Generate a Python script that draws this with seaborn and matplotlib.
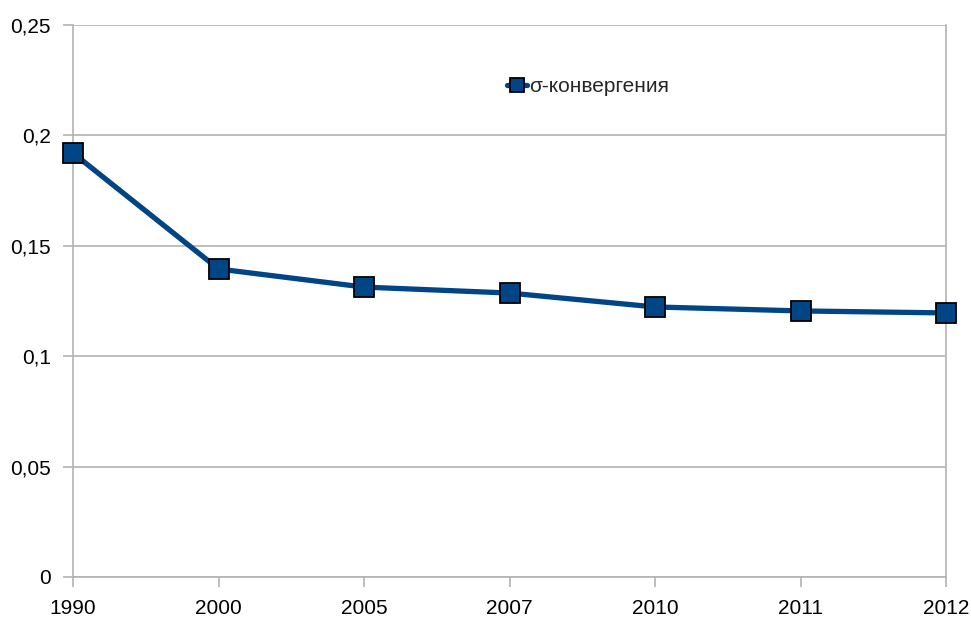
import pandas as pd
import matplotlib.pyplot as plt
import seaborn as sns

years = ["1990", "2000", "2005", "2007", "2010", "2011", "2012"]
sigma = [0.192, 0.1395, 0.1313, 0.1286, 0.1223, 0.1205, 0.1196]
yticks = [0, 0.05, 0.1, 0.15, 0.2, 0.25]
ytick_labels = ["0", "0,05", "0,1", "0,15", "0,2", "0,25"]

df = pd.DataFrame({"year": years, "value": sigma})

sns.set_style("white")
plt.rcParams["font.family"] = ["Liberation Sans", "DejaVu Sans"]

fig = plt.figure(figsize=(9.71, 6.19), dpi=100)
ax = fig.add_axes([73 / 971, 42 / 619, (946 - 73) / 971, (577 - 25) / 619])

sns.lineplot(data=df, x="year", y="value", ax=ax, color="#004586", linewidth=3.8,
             marker="s", markersize=14, markeredgecolor="black", markeredgewidth=1.3,
             label="σ-конвергения", sort=False, clip_on=False, zorder=5)

ax.set_xlim(0, len(years) - 1)
ax.set_ylim(0, 0.25)
ax.set_yticks(yticks)
ax.set_yticklabels(ytick_labels)
ax.yaxis.grid(True, color="#b3b3b3", linewidth=1.2)
ax.set_axisbelow(True)
ax.set_xlabel("")
ax.set_ylabel("")

for side in ["left", "right", "bottom"]:
    ax.spines[side].set_visible(True)
    ax.spines[side].set_color("#b3b3b3")
    ax.spines[side].set_linewidth(1.2)
ax.spines["top"].set_visible(False)

ax.tick_params(axis="both", colors="#b3b3b3", labelcolor="black", labelsize=15,
               length=7, width=1.2, direction="out", bottom=True, left=True)
ax.tick_params(axis="x", pad=9)
ax.tick_params(axis="y", pad=9)

leg = ax.legend(loc="center", bbox_to_anchor=(0.59, 0.888), frameon=False,
                fontsize=15, handlelength=1.0, handletextpad=0.1, markerscale=0.75)

fig.savefig("out.png", dpi=100)
